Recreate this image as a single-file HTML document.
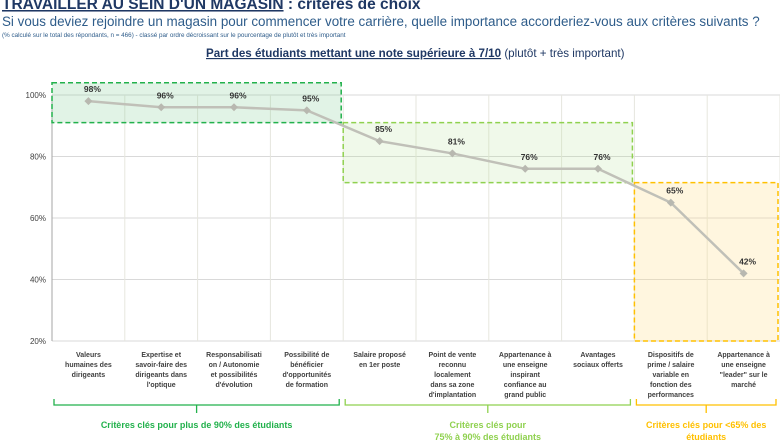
<!DOCTYPE html>
<html><head><meta charset="utf-8"><style>
body{margin:0;width:780px;height:444px;overflow:hidden;background:#fff;font-family:"Liberation Sans",sans-serif;}
svg{position:absolute;left:0;top:0}
</style></head><body>
<svg width="780" height="444">
<text x="2" y="9" font-size="15.5" font-weight="bold" fill="#1f3864"><tspan text-decoration="underline">TRAVAILLER AU SEIN D'UN MAGASIN</tspan> : critères de choix</text>
<text x="2" y="26" font-size="13.4" fill="#2e5c8a">Si vous deviez rejoindre un magasin pour commencer votre carrière, quelle importance accorderiez-vous aux critères suivants ?</text>
<text x="2" y="37" font-size="6.3" fill="#2e5c8a">(% calculé sur le total des répondants, n = 466) - classé par ordre décroissant sur le pourcentage de plutôt et très important</text>
<text x="206" y="57" font-size="11.6" fill="#1f3864"><tspan font-weight="bold" text-decoration="underline">Part des étudiants mettant une note supérieure à 7/10</tspan> (plutôt + très important)</text>
<g id="grid"></g>
<g id="boxes"></g>
<g id="marks"></g>
<g id="labels"></g>
</svg>
<script>
const categories=[["Valeurs","humaines des","dirigeants"],["Expertise et","savoir-faire des","dirigeants dans","l'optique"],["Responsabilisati","on / Autonomie","et possibilités","d'évolution"],["Possibilité de","bénéficier","d'opportunités","de formation"],["Salaire proposé","en 1er poste"],["Point de vente","reconnu","localement","dans sa zone","d'implantation"],["Appartenance à","une enseigne","inspirant","confiance au","grand public"],["Avantages","sociaux offerts"],["Dispositifs de","prime / salaire","variable en","fonction des","performances"],["Appartenance à","une enseigne","\"leader\" sur le","marché"]];
const values=[98,96,96,95,85,81,76,76,65,42];
const valueLabels=["98%","96%","96%","95%","85%","81%","76%","76%","65%","42%"];
const yTicks=[20,40,60,80,100];
const groups=[{from:0,to:3,top:104,bottom:91,label:["Critères clés pour plus de 90% des étudiants"],color:"#22b14c",fill:"rgba(120,200,140,0.22)"},{from:4,to:7,top:91,bottom:71.5,label:["Critères clés pour","75% à 90% des étudiants"],color:"#8fd14f",fill:"rgba(180,225,150,0.2)"},{from:8,to:9,top:71.5,bottom:20,label:["Critères clés pour <65% des","étudiants"],color:"#ffc000",fill:"rgba(255,225,150,0.3)"}];
const NS="http://www.w3.org/2000/svg";
const X0=52,X1=780,Y100=95,Y20=341,n=categories.length,cw=(X1-X0)/n;
const xs=i=>X0+cw*(i+0.5), xe=i=>X0+cw*i, ys=v=>Y20-(v-20)*(Y20-Y100)/80;
function mk(p,t,a){const e=document.createElementNS(NS,t);for(const k in a)e.setAttribute(k,a[k]);p.appendChild(e);return e;}
const grid=document.getElementById('grid'),boxes=document.getElementById('boxes'),marks=document.getElementById('marks'),labels=document.getElementById('labels');
yTicks.forEach(t=>{const l=mk(grid,'line',{x1:X0,x2:X1,y1:ys(t),y2:ys(t),stroke:'#d9d9d9','stroke-width':1});


const tx=mk(grid,'text',{x:X0-6,y:ys(t)+3,'text-anchor':'end','font-size':8,fill:'#404040'});tx.textContent=t+'%';

});
for(let i=0;i<=n;i++){const l=mk(grid,'line',{x1:xe(i),x2:xe(i),y1:Y100,y2:Y20,stroke:'#e6e6de','stroke-width':1});

}
mk(grid,'line',{x1:X0,x2:X0,y1:Y100,y2:Y20,stroke:'#a6a6a6'});
groups.forEach(g=>{const r=mk(boxes,'rect',{x:xe(g.from),y:ys(g.top),width:xe(g.to+1)-xe(g.from)-2,height:ys(g.bottom)-ys(g.top),fill:g.fill,stroke:g.color,'stroke-width':1.5,'stroke-dasharray':'5,3'});


const a=xe(g.from)+2,b=xe(g.to+1)-4,m=(a+b)/2;
const br=mk(boxes,'path',{d:`M${a},399 V405 H${b} V399 M${m},405 V413`,fill:'none',stroke:g.color,'stroke-width':1.3});


g.label.forEach((s,k)=>{const t=mk(boxes,'text',{x:m,y:428+k*12,'text-anchor':'middle','font-size':9,'font-weight':'bold',fill:g.color});t.textContent=s;

});});
const pl=mk(marks,'polyline',{points:values.map((v,i)=>xs(i)+','+ys(v)).join(' '),fill:'none',stroke:'#c0c0b8','stroke-width':2.5});


values.forEach((v,i)=>{const x=xs(i),y=ys(v);const p=mk(marks,'path',{d:`M${x},${y-4}L${x+4},${y}L${x},${y+4}L${x-4},${y}Z`,fill:'#b8b8b0'});


const t=mk(marks,'text',{x:x+4,y:y-9,'text-anchor':'middle','font-size':8.5,'font-weight':'bold',fill:'#333'});t.textContent=valueLabels[i];

});
categories.forEach((c,i)=>{c.forEach((s,k)=>{const t=mk(labels,'text',{x:xs(i),y:357+k*10,'text-anchor':'middle','font-size':7,'font-weight':'bold',fill:'#404040'});t.textContent=s;

});});
</script>
</body></html>
